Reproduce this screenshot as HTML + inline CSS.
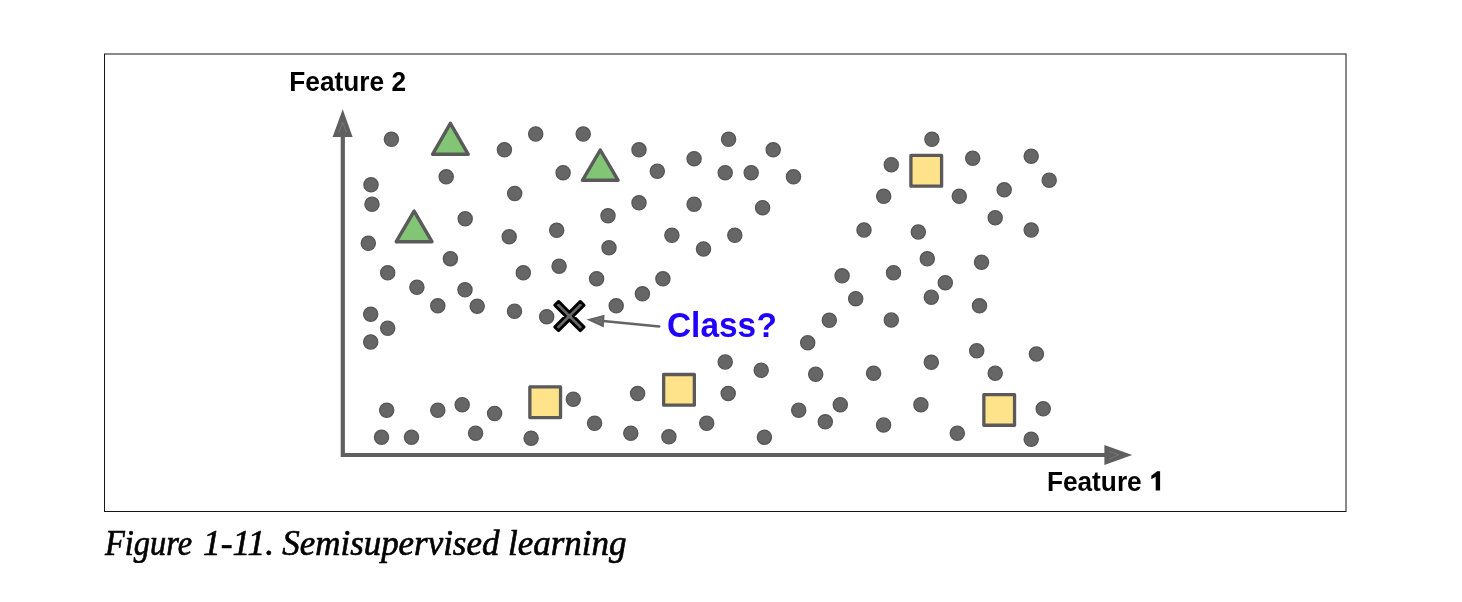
<!DOCTYPE html>
<html><head><meta charset="utf-8"><style>
html,body{margin:0;padding:0;background:#fff;width:1462px;height:602px;overflow:hidden}
svg{display:block}
text{will-change:transform}
</style></head><body>
<svg width="1462" height="602" viewBox="0 0 1462 602">
<rect x="0" y="0" width="1462" height="602" fill="#fff"/>
<rect x="104.5" y="54" width="1241.5" height="457.5" fill="none" stroke="#151515" stroke-width="1"/>
<g stroke="#5f5f5f" stroke-width="4.2" fill="none" stroke-linejoin="miter">
<polyline points="342.8,136 342.8,455 1106,455"/>
</g>
<g fill="#5f5f5f">
<polygon points="342.7,109.3 332.6,137 352.6,137"/>
<polygon points="1132.2,455 1104.4,445 1104.4,465"/>
</g>
<g fill="none" stroke="#7c7c7c" stroke-width="0.8">
<polyline points="338.8,132.6 342.6,122.3 346.4,132.2"/>
<polyline points="1109.2,451.3 1118.8,455 1109.2,459"/>
</g>
<g fill="#666666" stroke="#565656" stroke-width="1.3">
<circle cx="391.4" cy="139.35" r="7.1"/>
<circle cx="504.4" cy="149.85" r="7.1"/>
<circle cx="535.7" cy="133.95" r="7.1"/>
<circle cx="583.2" cy="133.95" r="7.1"/>
<circle cx="563.1" cy="172.65" r="7.1"/>
<circle cx="446.2" cy="176.85" r="7.1"/>
<circle cx="371" cy="184.85" r="7.1"/>
<circle cx="372" cy="204.25" r="7.1"/>
<circle cx="514.7" cy="193.45" r="7.1"/>
<circle cx="465.2" cy="218.75" r="7.1"/>
<circle cx="608" cy="215.85" r="7.1"/>
<circle cx="639" cy="149.85" r="7.1"/>
<circle cx="657.3" cy="171.25" r="7.1"/>
<circle cx="694.1" cy="158.65" r="7.1"/>
<circle cx="728.6" cy="139.35" r="7.1"/>
<circle cx="773.2" cy="149.85" r="7.1"/>
<circle cx="725.2" cy="172.65" r="7.1"/>
<circle cx="751.2" cy="172.65" r="7.1"/>
<circle cx="793.5" cy="176.85" r="7.1"/>
<circle cx="639" cy="202.85" r="7.1"/>
<circle cx="694.1" cy="204.25" r="7.1"/>
<circle cx="762.6" cy="207.65" r="7.1"/>
<circle cx="891.3" cy="164.65" r="7.1"/>
<circle cx="883.7" cy="196.25" r="7.1"/>
<circle cx="931.9" cy="139.35" r="7.1"/>
<circle cx="972.7" cy="158.25" r="7.1"/>
<circle cx="1031.2" cy="156.25" r="7.1"/>
<circle cx="1049.2" cy="180.25" r="7.1"/>
<circle cx="1004.2" cy="189.85" r="7.1"/>
<circle cx="959.3" cy="196.25" r="7.1"/>
<circle cx="995.2" cy="217.75" r="7.1"/>
<circle cx="368.3" cy="243.35" r="7.1"/>
<circle cx="509.2" cy="236.75" r="7.1"/>
<circle cx="556.7" cy="230.35" r="7.1"/>
<circle cx="609" cy="247.75" r="7.1"/>
<circle cx="450.4" cy="258.65" r="7.1"/>
<circle cx="387.7" cy="272.85" r="7.1"/>
<circle cx="523.3" cy="272.85" r="7.1"/>
<circle cx="559.1" cy="266.25" r="7.1"/>
<circle cx="596.6" cy="278.65" r="7.1"/>
<circle cx="416.9" cy="287.25" r="7.1"/>
<circle cx="465" cy="289.85" r="7.1"/>
<circle cx="437.8" cy="305.85" r="7.1"/>
<circle cx="477.2" cy="306.25" r="7.1"/>
<circle cx="514.5" cy="311.25" r="7.1"/>
<circle cx="546.7" cy="316.65" r="7.1"/>
<circle cx="616.2" cy="305.85" r="7.1"/>
<circle cx="370.7" cy="314.25" r="7.1"/>
<circle cx="387.7" cy="328.25" r="7.1"/>
<circle cx="671.9" cy="235.35" r="7.1"/>
<circle cx="734.8" cy="235.35" r="7.1"/>
<circle cx="703.5" cy="248.95" r="7.1"/>
<circle cx="864" cy="229.95" r="7.1"/>
<circle cx="662.9" cy="278.85" r="7.1"/>
<circle cx="642.4" cy="293.85" r="7.1"/>
<circle cx="842.1" cy="275.85" r="7.1"/>
<circle cx="893.5" cy="272.75" r="7.1"/>
<circle cx="855.7" cy="298.65" r="7.1"/>
<circle cx="829.3" cy="320.25" r="7.1"/>
<circle cx="891.3" cy="320.05" r="7.1"/>
<circle cx="918.3" cy="231.95" r="7.1"/>
<circle cx="1031.2" cy="229.95" r="7.1"/>
<circle cx="927.3" cy="258.85" r="7.1"/>
<circle cx="981.5" cy="262.25" r="7.1"/>
<circle cx="945.3" cy="282.65" r="7.1"/>
<circle cx="931.3" cy="297.25" r="7.1"/>
<circle cx="979.5" cy="305.85" r="7.1"/>
<circle cx="370.7" cy="341.95" r="7.1"/>
<circle cx="386.7" cy="410.25" r="7.1"/>
<circle cx="437.8" cy="410.25" r="7.1"/>
<circle cx="462.2" cy="404.65" r="7.1"/>
<circle cx="494.6" cy="413.45" r="7.1"/>
<circle cx="381.5" cy="437.25" r="7.1"/>
<circle cx="411.5" cy="437.25" r="7.1"/>
<circle cx="475.6" cy="433.25" r="7.1"/>
<circle cx="531.1" cy="438.15" r="7.1"/>
<circle cx="573.3" cy="399.15" r="7.1"/>
<circle cx="594.6" cy="423.25" r="7.1"/>
<circle cx="807.7" cy="342.75" r="7.1"/>
<circle cx="725.2" cy="361.95" r="7.1"/>
<circle cx="761.2" cy="370.25" r="7.1"/>
<circle cx="815.7" cy="374.25" r="7.1"/>
<circle cx="873.6" cy="373.25" r="7.1"/>
<circle cx="637.6" cy="393.45" r="7.1"/>
<circle cx="728.2" cy="393.45" r="7.1"/>
<circle cx="798.7" cy="410.25" r="7.1"/>
<circle cx="840.3" cy="404.65" r="7.1"/>
<circle cx="825.3" cy="421.85" r="7.1"/>
<circle cx="883.6" cy="425.05" r="7.1"/>
<circle cx="630.8" cy="433.25" r="7.1"/>
<circle cx="668.9" cy="436.85" r="7.1"/>
<circle cx="706.7" cy="423.25" r="7.1"/>
<circle cx="764.4" cy="437.25" r="7.1"/>
<circle cx="976.7" cy="350.75" r="7.1"/>
<circle cx="1036.4" cy="353.95" r="7.1"/>
<circle cx="931.3" cy="362.35" r="7.1"/>
<circle cx="995.2" cy="373.25" r="7.1"/>
<circle cx="920.9" cy="404.65" r="7.1"/>
<circle cx="957.3" cy="433.25" r="7.1"/>
<circle cx="1043.2" cy="408.85" r="7.1"/>
<circle cx="1031.2" cy="439.15" r="7.1"/>
</g>
<g fill="#82c574" stroke="#5a5a5a" stroke-width="3.4" stroke-linejoin="round">
<polygon points="450.4,123.3 432.55,154.3 468.25,154.3"/>
<polygon points="600.3,150 582.45,180.3 618.15,180.3"/>
<polygon points="414.1,211.1 396.25,241.7 431.95,241.7"/>
</g>
<g fill="#ffe38b" stroke="#5a5a5a" stroke-width="3.3" stroke-linejoin="round">
<rect x="910.9" y="155.45000000000002" width="30.7" height="30.7"/>
<rect x="529.85" y="386.9" width="30.7" height="30.7"/>
<rect x="663.65" y="374.5" width="30.7" height="30.7"/>
<rect x="983.85" y="394.54999999999995" width="30.7" height="30.7"/>
</g>
<polygon points="569.40,319.99 580.25,330.84 584.14,326.95 573.29,316.10 584.14,305.25 580.25,301.36 569.40,312.21 558.55,301.36 554.66,305.25 565.51,316.10 554.66,326.95 558.55,330.84" fill="#666" stroke="#000" stroke-width="2.8" stroke-linejoin="round"/>
<line x1="603" y1="320.9" x2="659.3" y2="326.5" stroke="#646464" stroke-width="2.5" stroke-linecap="round"/>
<polygon points="586.5,319.5 604.6,314.7 603.8,327.6" fill="#646464"/>
<polygon points="595.3,320.4 601.8,318.2 601,322.8" fill="none" stroke="#7e7e7e" stroke-width="0.7"/>
<text transform="translate(289.3,90.7) scale(1.01,1.045)" font-family="Liberation Sans" font-weight="bold" font-size="26" fill="#000">Feature 2</text>
<text transform="translate(1046.9,490.5) scale(1.01,1.045)" font-family="Liberation Sans" font-weight="bold" font-size="26" fill="#000">Feature</text>
<polygon points="1157.2,471.2 1160.1,471.2 1160.1,490.5 1155.7,490.5 1155.7,476.8 1151.3,479.2 1151.3,475.7" fill="#000"/>
<text transform="translate(667,337.3) scale(1,1.035)" font-family="Liberation Sans" font-weight="bold" font-size="33.4" fill="#2200ff">Class<tspan dx="0.3">?</tspan></text>
<g font-family="Liberation Serif" font-style="italic" font-size="34.8" fill="#000" stroke="#000" stroke-width="0.65">
<text transform="translate(105,555) scale(0.932,1)">Figure</text>
<text transform="translate(203.1,555) scale(1.015,1)">1-11.</text>
<text transform="translate(282.3,555) scale(1.003,1)">Semisupervised</text>
<text transform="translate(508,555) scale(1.006,1)">learning</text>
</g>
</svg>
</body></html>
